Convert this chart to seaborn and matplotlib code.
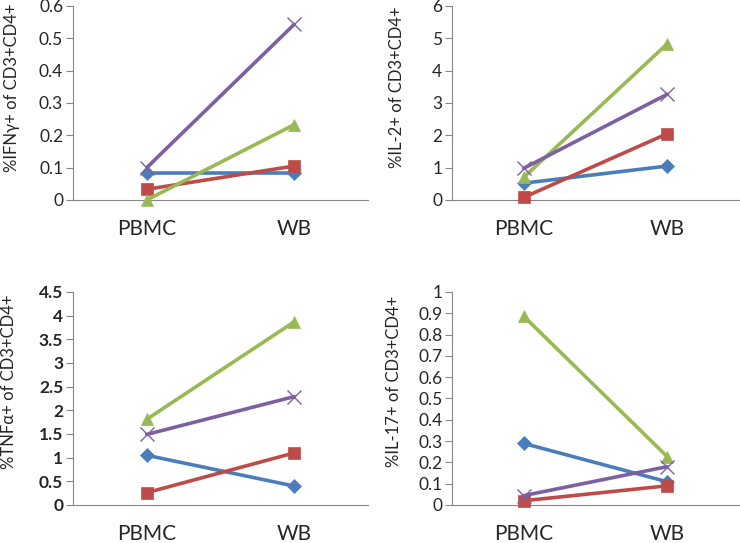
import pandas as pd
import matplotlib
matplotlib.use("Agg")
import matplotlib.pyplot as plt
import seaborn as sns
from matplotlib.ticker import MultipleLocator, FixedLocator

sns.set_style("white")
plt.rcParams['font.family'] = ['Lato', 'DejaVu Sans']

# data (PBMC, WB) per donor
conditions = ["PBMC", "WB"]
donors = ["d1", "d2", "d3", "d4"]
ifng = [[0.085, 0.085], [0.033, 0.105], [0.0, 0.233], [0.10, 0.543]]
il2 = [[0.52, 1.05], [0.08, 2.05], [0.70, 4.83], [0.98, 3.27]]
tnfa = [[1.05, 0.40], [0.26, 1.10], [1.81, 3.87], [1.49, 2.29]]
il17 = [[0.289, 0.109], [0.02, 0.09], [0.886, 0.227], [0.044, 0.18]]

ylabels = ["%IFNγ+ of CD3+CD4+", "%IL-2+ of CD3+CD4+",
           "%TNFα+ of CD3+CD4+", "%IL-17+ of CD3+CD4+"]
ymax = [0.6, 6, 4.5, 1]
ystep = [0.1, 1, 0.5, 0.1]

colors = ["#4A7EBB", "#BE4B48", "#98B954", "#7D60A0"]
markers = ["D", "s", "^", "x"]
sizes = [7, 8, 9, 10]

fig = plt.figure(figsize=(7.4, 5.43), dpi=100)
boxes = [[0.0986, 0.6317, 0.3986, 0.3573],
         [0.6108, 0.6317, 0.3878, 0.3573],
         [0.0986, 0.0700, 0.3986, 0.3923],
         [0.6108, 0.0700, 0.3878, 0.3923]]
label_x = [-0.18, -0.164, -0.19, -0.174]

for i, vals in enumerate([ifng, il2, tnfa, il17]):
    ax = fig.add_axes(boxes[i])
    rows = []
    for d, v in zip(donors, vals):
        for c, y in zip(conditions, v):
            rows.append({"donor": d, "cond": conditions.index(c), "value": y})
    df = pd.DataFrame(rows)
    for j, d in enumerate(donors):
        sub = df[df["donor"] == d]
        sns.lineplot(data=sub, x="cond", y="value", ax=ax, color=colors[j],
                     marker=markers[j], markersize=sizes[j], lw=2.6,
                     markeredgecolor=colors[j],
                     markeredgewidth=1.0 if markers[j] == "x" else 0.5,
                     legend=False, clip_on=False, zorder=3)

    ax.set_xlim(-0.5, 1.5)
    ax.set_ylim(0, ymax[i])
    ax.yaxis.set_major_locator(MultipleLocator(ystep[i]))
    ax.yaxis.set_major_formatter(plt.FuncFormatter(lambda v, p: f"{v:g}"))
    ax.set_xticks([0, 1])
    ax.set_xticklabels(conditions, fontsize=15)
    ax.xaxis.set_minor_locator(FixedLocator([-0.5, 0.5, 1.5]))
    ax.tick_params(axis="x", which="major", length=0, pad=14)
    ax.tick_params(axis="x", which="minor", length=5, width=0.8, color="#868686")
    ax.tick_params(axis="y", length=5, width=0.8, color="#868686", pad=2,
                   labelsize=12.5, left=True)
    if i == 2:
        for t in ax.get_yticklabels():
            t.set_fontweight("bold")
    for s in ["top", "right"]:
        ax.spines[s].set_visible(False)
    for s in ["left", "bottom"]:
        ax.spines[s].set_color("#868686")
        ax.spines[s].set_linewidth(0.8)
    ax.set_xlabel("")
    ax.set_ylabel(ylabels[i], fontsize=12)
    ax.yaxis.set_label_coords(label_x[i], 0.58)

fig.savefig("out.png", dpi=100)
